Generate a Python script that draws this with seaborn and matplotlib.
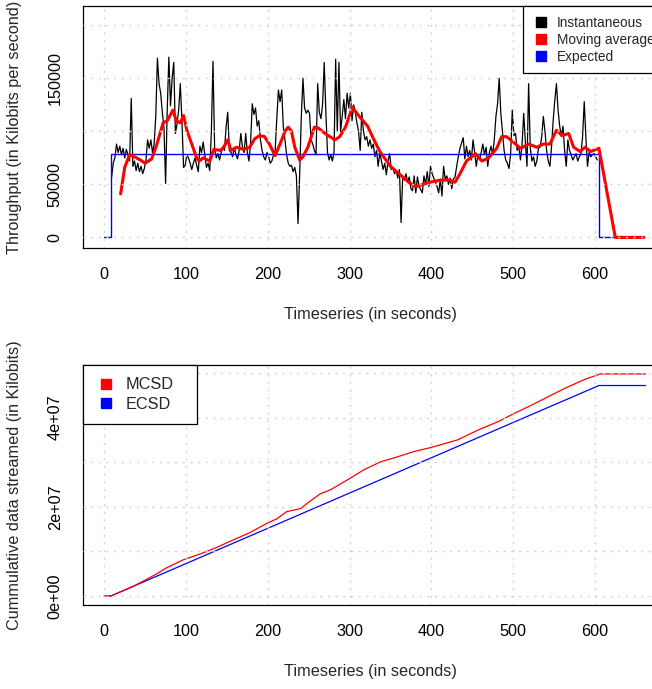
import numpy as np
import pandas as pd
import matplotlib
matplotlib.use("Agg")
import matplotlib.pyplot as plt
import seaborn as sns
from matplotlib.lines import Line2D

# ---------------- data ----------------
# Instantaneous throughput (kbit/s, in thousands), one value every 2 s starting at t = 9 s
inst_start = 9
inst_step = 2
inst_kbps = [
    57, 70, 75, 88, 80, 86, 78, 84, 75, 83,
    78, 72, 131, 67, 72, 63, 70, 62, 67, 60,
    65, 73, 92, 84, 92, 80, 88, 114, 169, 145,
    136, 118, 104, 51, 120, 170, 124, 150, 165, 98,
    107, 120, 145, 110, 66, 68, 78, 75, 70, 64,
    70, 75, 68, 62, 86, 80, 90, 78, 66, 70,
    63, 100, 166, 83, 75, 79, 73, 80, 85, 82,
    104, 118, 82, 80, 76, 85, 78, 74, 82, 98,
    85, 80, 98, 80, 72, 90, 126, 116, 122, 105,
    110, 92, 82, 76, 73, 80, 76, 70, 72, 78,
    82, 112, 139, 128, 139, 104, 92, 78, 70, 67,
    68, 62, 66, 58, 13, 60, 114, 150, 122, 117,
    120, 117, 92, 88, 82, 78, 145, 118, 112, 125,
    165, 118, 80, 73, 78, 72, 80, 168, 100, 165,
    100, 114, 130, 112, 136, 122, 136, 110, 125, 118,
    108, 100, 82, 118, 100, 92, 95, 86, 92, 84,
    88, 76, 82, 67, 80, 72, 64, 70, 59, 72,
    79, 64, 66, 60, 63, 56, 64, 14, 58, 54,
    60, 52, 57, 46, 44, 58, 42, 57, 48, 45,
    42, 58, 50, 62, 48, 67, 60, 56, 52, 48,
    42, 55, 39, 67, 55, 58, 50, 56, 46, 55,
    57, 67, 76, 84, 89, 94, 74, 86, 76, 82,
    73, 92, 80, 67, 78, 73, 80, 88, 78, 85,
    67, 80, 86, 78, 92, 114, 126, 150, 117, 100,
    82, 73, 70, 65, 79, 120, 96, 98, 82, 86,
    73, 88, 117, 90, 67, 145, 85, 72, 76, 67,
    72, 84, 85, 95, 114, 100, 82, 72, 67, 85,
    110, 129, 145, 120, 105, 95, 105, 82, 67, 92,
    82, 78, 73, 76, 79, 72, 76, 79, 95, 128,
    95, 67, 80, 76, 78, 79, 76, 73,
]

# Moving average (thousands)
avg_time = [20, 25, 31, 37, 44, 50, 58, 64, 72, 77, 84, 88, 93, 97, 101, 107, 113, 116,
            121, 129, 134, 142, 146, 151, 155, 162, 170, 178, 184, 190, 196, 202, 209,
            217, 221, 225, 229, 233, 239, 243, 249, 257, 262, 270, 278, 282, 288, 295,
            300, 303, 308, 313, 322, 328, 337, 350, 362, 374, 382, 390, 398, 411, 423,
            429, 435, 443, 454, 462, 470, 480, 486, 492, 500, 509, 519, 529, 537, 545,
            553, 560, 568, 574, 582, 588, 595, 605, 625, 660]
avg_kbps = [41, 66, 78, 76, 73, 70, 74, 87, 108, 110, 120, 110, 108, 115, 101, 88, 75, 72,
            75, 72, 83, 82, 85, 92, 82, 85, 83, 85, 93, 96, 95, 88, 77,
            92, 100, 104, 100, 85, 73, 76, 85, 104, 103, 98, 94, 92, 95, 104,
            115, 123, 118, 113, 105, 95, 81, 67, 59, 51, 48, 50, 52, 54, 54,
            52, 60, 72, 79, 72, 75, 84, 95, 95, 90, 84, 88, 85, 88, 88,
            101, 96, 98, 85, 81, 85, 81, 84, 0, 0]

# Expected throughput (thousands)
exp_time = [0, 8, 8, 605, 605, 660]
exp_kbps = [0, 0, 79, 79, 0, 0]

# Cumulative data streamed (units of 1e7 kbit)
mcsd_time = [0, 8, 35, 63.5, 76, 96.4, 117, 137.5, 158, 178, 199, 211, 223, 240, 252, 264,
             276.5, 297, 317.5, 338, 358.5, 379, 399.5, 432, 457, 481.6, 502, 522.6, 543,
             563.6, 588, 606.6, 662]
mcsd_val = [0, 0, 0.21, 0.49, 0.63, 0.81, 0.94, 1.09, 1.26, 1.42, 1.63, 1.73, 1.89, 1.96,
            2.13, 2.29, 2.38, 2.60, 2.83, 3.01, 3.12, 3.24, 3.33, 3.50, 3.72, 3.91, 4.10,
            4.28, 4.47, 4.66, 4.86, 4.98, 4.98]
ecsd_time = [0, 8, 605, 662]
ecsd_val = [0, 0, 4.72, 4.72]

x_ticks = [0, 100, 200, 300, 400, 500, 600]
top_yticks = [0, 50000, 100000, 150000, 200000]
top_ylabels = ["0", "50000", "", "150000", ""]
bot_yticks = [0, 1e7, 2e7, 3e7, 4e7, 5e7]
bot_ylabels = ["0e+00", "", "2e+07", "", "4e+07", ""]

# ---------------- frames ----------------
inst_df = pd.DataFrame({"t": inst_start + inst_step * np.arange(len(inst_kbps)),
                        "v": np.array(inst_kbps) * 1000.0})
avg_df = pd.DataFrame({"t": avg_time, "v": np.array(avg_kbps) * 1000.0})
exp_df = pd.DataFrame({"t": exp_time, "v": np.array(exp_kbps) * 1000.0})
mcsd_df = pd.DataFrame({"t": mcsd_time, "v": np.array(mcsd_val) * 1e7})
ecsd_df = pd.DataFrame({"t": ecsd_time, "v": np.array(ecsd_val) * 1e7})

# ---------------- style ----------------
sns.set_style("white")
plt.rcParams["font.family"] = ["Liberation Sans", "DejaVu Sans"]
FS = 11.7

W, H = 652, 689
fig = plt.figure(figsize=(W / 100, H / 100), dpi=100)
left, right = 83, 657
ax1 = fig.add_axes([left / W, 1 - 248 / H, (right - left) / W, 242 / H])
ax2 = fig.add_axes([left / W, 1 - 605 / H, (right - left) / W, 240 / H])

kw = dict(estimator=None, sort=False, legend=False)
sns.lineplot(data=inst_df, x="t", y="v", ax=ax1, color="black", lw=0.9, **kw)
sns.lineplot(data=exp_df, x="t", y="v", ax=ax1, color="blue", lw=1.0, **kw)
sns.lineplot(data=avg_df, x="t", y="v", ax=ax1, color="red", lw=2.2, **kw)

sns.lineplot(data=ecsd_df, x="t", y="v", ax=ax2, color="blue", lw=0.9, **kw)
sns.lineplot(data=mcsd_df, x="t", y="v", ax=ax2, color="red", lw=0.9, **kw)

ax1.set_ylim(-10000, 218200)
ax2.set_ylim(-0.202e7, 5.18e7)
ax1.set_yticks(top_yticks)
ax1.set_yticklabels(top_ylabels)
ax2.set_yticks(bot_yticks)
ax2.set_yticklabels(bot_ylabels)

for ax in (ax1, ax2):
    ax.set_xlim(-26, 676)
    ax.set_xticks(x_ticks)
    ax.set_xticklabels([str(v) for v in x_ticks])
    ax.set_axisbelow(False)
    ax.grid(True, color="#D3D3D3", linestyle=(0, (1.5, 4)), lw=1.0)
    for s in ax.spines.values():
        s.set_visible(True)
        s.set_color("black")
        s.set_linewidth(0.9)
    ax.tick_params(axis="both", direction="out", length=6, width=0.9, color="#333333",
                   labelsize=FS, labelcolor="black")
    ax.tick_params(axis="x", pad=7.5)
    ax.tick_params(axis="y", pad=8.5, labelrotation=90)
    for lab in ax.get_yticklabels():
        lab.set_va("center")
    ax.set_xlabel("Timeseries (in seconds)", fontsize=FS)
    ax.xaxis.set_label_coords(0.5, -59 / (242 if ax is ax1 else 240))

ax1.set_ylabel("Throughput (in Kilobits per second)", fontsize=FS)
ax2.set_ylabel("Cummulative data streamed (in Kilobits)", fontsize=FS)
ax1.yaxis.set_label_coords(-61 / (right - left), 0.5)
ax2.yaxis.set_label_coords(-61 / (right - left), 0.5)

# legends
def sq(c, ms):
    return Line2D([], [], marker="s", linestyle="none", markersize=ms,
                  markerfacecolor=c, markeredgecolor=c)

lw_ = (right - left)
leg1 = ax1.legend([sq("black", 6.5), sq("red", 6.5), sq("blue", 6.5)],
                  ["Instantaneous", "Moving average", "Expected"],
                  loc="upper left", bbox_to_anchor=((522.7 - left) / lw_, 1.0, (right - 522.7) / lw_, 0),
                  mode="expand", borderaxespad=0, fontsize=9.8, frameon=True, fancybox=False,
                  edgecolor="black", framealpha=1, borderpad=0.7, labelspacing=0.22,
                  handlelength=1.3, handletextpad=0.5)
leg1.get_frame().set_linewidth(0.9)
leg1.set_zorder(5)

leg2 = ax2.legend([sq("red", 7.5), sq("blue", 7.5)], ["MCSD", "ECSD"],
                  loc="upper left", bbox_to_anchor=(0, 1.0, (196.7 - left) / lw_, 0),
                  mode="expand", borderaxespad=0, fontsize=FS, frameon=True, fancybox=False,
                  edgecolor="black", framealpha=1, borderpad=0.75, labelspacing=0.3,
                  handlelength=1.3, handletextpad=0.55)
leg2.get_frame().set_linewidth(0.9)
leg2.set_zorder(5)

fig.savefig("out.png", dpi=100)
